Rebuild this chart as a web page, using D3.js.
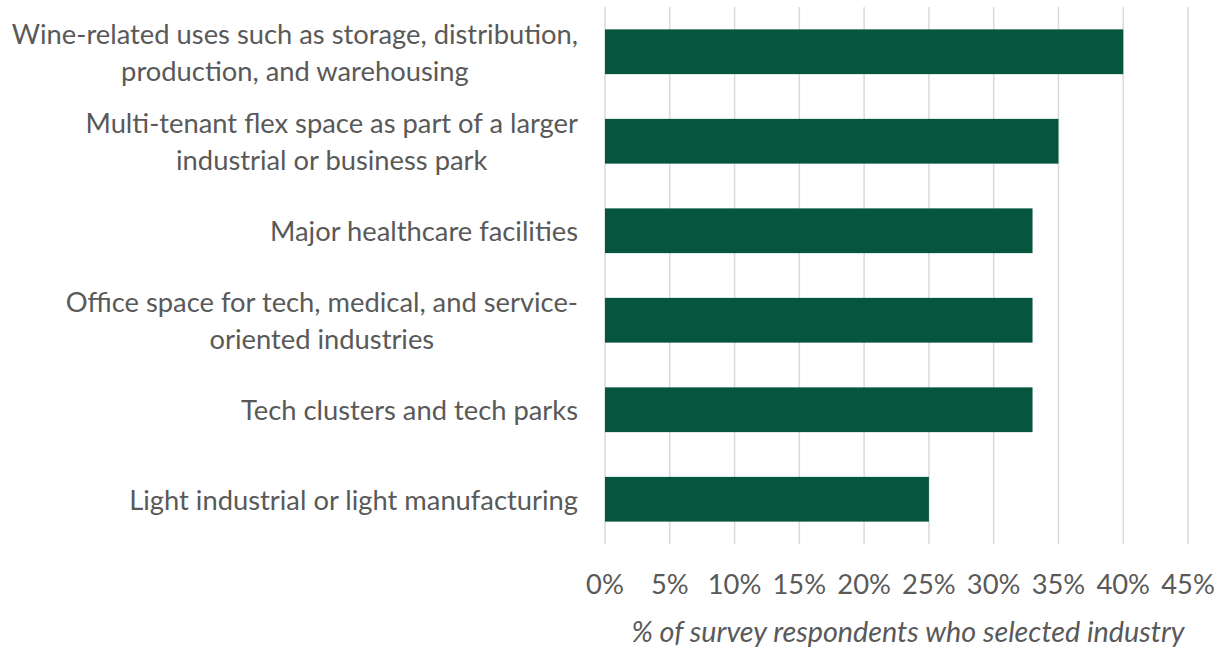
<!DOCTYPE html>
<html><head><meta charset="utf-8">
<script src="https://cdn.jsdelivr.net/npm/d3@7"></script>
<style>body{margin:0;background:#fff}svg{display:block}</style>
</head><body>
<script>
const categories = [
  ["Wine-related uses such as storage, distribution,", "production, and warehousing"],
  ["Multi-tenant flex space as part of a larger", "industrial or business park"],
  ["Major healthcare facilities"],
  ["Office space for tech, medical, and service-", "oriented industries"],
  ["Tech clusters and tech parks"],
  ["Light industrial or light manufacturing"]
];
const values = [40, 35, 33, 33, 33, 25];
const tickValues = [0, 5, 10, 15, 20, 25, 30, 35, 40, 45];
const xTitle = "% of survey respondents who selected industry";

const W = 1220, H = 648;
const svg = d3.select("body").append("svg").attr("width", W).attr("height", H);
const fontFam = "Lato, 'Open Sans', sans-serif";
const txtColor = "#595959";

const x = d3.scaleLinear().domain([0, 45]).range([605, 1188]);
const y = d3.scaleBand().domain(d3.range(categories.length)).range([7, 544]).paddingInner(0.5).paddingOuter(0.25);

// gridlines
svg.append("g").selectAll("line").data(tickValues).join("line")
  .attr("x1", d => x(d)).attr("x2", d => x(d))
  .attr("y1", 7).attr("y2", 544)
  .attr("stroke", "#d9d9d9").attr("stroke-width", 1.5);

// bars
svg.append("g").selectAll("rect").data(values).join("rect")
  .attr("x", x(0)).attr("y", (d, i) => y(i))
  .attr("width", d => x(d) - x(0)).attr("height", y.bandwidth())
  .attr("fill", "#05553F");

// font size so the widest single-line label matches the reference width
const probe = svg.append("text").attr("font-family", fontFam).attr("font-size", 24).text("Light industrial or light manufacturing");
const pw = probe.node().getComputedTextLength();
probe.remove();
const fs = 24 * 449 / pw;

// category labels
const lh = 37;
const lab = svg.append("g");
categories.forEach((lines, i) => {
  const cy = y(i) + y.bandwidth() / 2;
  const g = lab.append("g");
  const n = lines.length;
  const texts = lines.map((t, j) => g.append("text")
    .attr("font-family", fontFam).attr("font-size", fs).attr("fill", txtColor)
    .attr("text-anchor", "middle")
    .attr("dominant-baseline", "central")
    .attr("y", cy + (j - (n - 1) / 2) * lh)
    .text(t));
  const widths = texts.map(t => t.node().getComputedTextLength());
  const maxW = d3.max(widths);
  const center = 578 - maxW / 2;
  texts.forEach(t => t.attr("x", center));
});

// tick labels
svg.append("g").selectAll("text").data(tickValues).join("text")
  .attr("x", d => x(d)).attr("y", 583)
  .attr("text-anchor", "middle").attr("dominant-baseline", "central")
  .attr("font-family", fontFam).attr("font-size", fs).attr("fill", txtColor)
  .text(d => d + "%");

// axis title
const tt = svg.append("text")
  .attr("x", 908).attr("y", 631)
  .attr("text-anchor", "middle").attr("dominant-baseline", "central")
  .attr("font-family", fontFam).attr("font-size", fs).attr("font-style", "italic").attr("fill", txtColor)
  .text(xTitle);
const tw = tt.node().getComputedTextLength();
tt.attr("font-size", fs * 553 / tw);
</script>
</body></html>
